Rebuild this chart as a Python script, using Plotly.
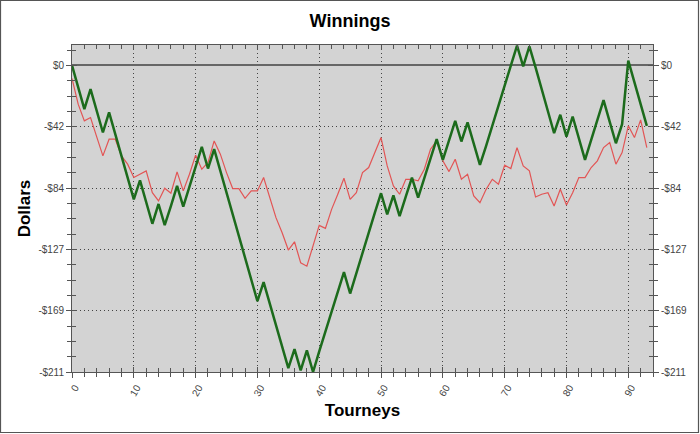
import plotly.graph_objects as go

tourneys = list(range(94))

green_winnings = [
    0, -15.2, -30.1, -16.3, -31.3, -46.2, -32.4, -47.4, -62.3, -77.2,
    -92.2, -79.1, -94.0, -109.0, -95.4, -109.9, -96.8, -83.0, -97.2, -83.0,
    -69.2, -56.1, -71.0, -57.7, -72.6, -87.6, -102.5, -117.5, -132.4, -147.4,
    -162.3, -149.2, -164.1, -179.1, -194.0, -208.3, -195.2, -209.9, -196.1, -211.0,
    -196.8, -183.0, -169.2, -155.4, -142.3, -157.0, -142.8, -129.0, -115.2, -101.4,
    -88.0, -102.5, -89.4, -103.7, -90.3, -77.2, -91.0, -77.9, -64.1, -50.8,
    -65.1, -51.5, -38.2, -52.4, -39.3, -53.8, -68.5, -55.4, -41.6, -27.8,
    -14.0, -0.2, 13.6, -0.7, 13.1, -1.4, -16.3, -31.3, -46.7, -34.0,
    -49.0, -35.2, -50.1, -65.1, -51.3, -37.5, -23.9, -38.9, -53.6, -40.5,
    3.2, -11.7, -26.7, -41.6,
]

red_winnings = [
    -9.0, -26.7, -38.2, -35.9, -49.2, -62.3, -50.8, -50.8, -62.3, -68.0,
    -77.2, -74.9, -72.6, -87.6, -93.3, -84.6, -88.0, -73.3, -86.4, -74.9,
    -61.8, -71.5, -66.9, -52.0, -61.1, -73.8, -84.8, -84.8, -91.5, -86.4,
    -86.4, -77.2, -91.0, -104.8, -115.2, -127.1, -121.4, -135.9, -138.2, -124.4,
    -110.1, -112.2, -99.1, -88.7, -77.7, -92.2, -87.6, -73.8, -70.3, -60.0,
    -49.7, -69.2, -83.0, -88.7, -78.4, -78.4, -79.5, -71.5, -57.7, -52.0,
    -65.7, -73.1, -64.6, -78.4, -74.9, -89.9, -94.5, -85.3, -78.4, -81.8,
    -68.7, -71.0, -56.6, -69.2, -72.6, -90.6, -88.7, -87.6, -96.8, -85.3,
    -96.1, -87.6, -77.2, -77.2, -70.3, -65.7, -56.6, -53.1, -68.0, -60.0,
    -41.6, -49.7, -37.5, -56.6,
]

y_min, y_max = -211.0, 14.0
ytick_vals = [y_min + k * (0 - y_min) / 5 for k in range(6)]
ytick_text = ["-$211", "-$169", "-$127", "-$84", "-$42", "$0"]
y_minor = [y_min + k * (0 - y_min) / 20 for k in range(22) if k % 4 != 0]
x_range = [0, 94]
xtick_vals = list(range(0, 91, 10))
xtick_text = [str(v) for v in xtick_vals]

AX = "#555555"
GRID = "#444444"
FONT = "Liberation Sans, Arial, sans-serif"

fig = go.Figure()
fig.add_trace(go.Scatter(x=tourneys, y=red_winnings, mode="lines",
                         line=dict(color="#e25555", width=1.2), showlegend=False))
fig.add_trace(go.Scatter(x=tourneys, y=green_winnings, mode="lines",
                         line=dict(color="#1c6b1c", width=2.5), showlegend=False))

tickfont = dict(family=FONT, size=10, color="#444444")

fig.update_layout(
    width=700, height=434,
    margin=dict(l=72, r=47, t=45, b=62),
    paper_bgcolor="white",
    plot_bgcolor="#d3d3d3",
    title=dict(text="<b>Winnings</b>", x=0.5, xanchor="center", y=0.953, yanchor="middle",
               font=dict(family=FONT, size=18, color="black")),
    xaxis=dict(range=x_range, tickmode="array", tickvals=xtick_vals, ticktext=xtick_text,
               tickangle=-60, tickfont=tickfont, ticks="outside", ticklen=5, tickcolor=AX,
               ticklabelshift=3,
               minor=dict(ticks="outside", ticklen=4, dtick=2, tick0=0, tickcolor=AX, showgrid=False),
               showline=True, linecolor=AX, linewidth=1, mirror=True,
               showgrid=True, gridcolor=GRID, griddash="1px,3px", gridwidth=1,
               zeroline=False,
               title=dict(text="<b>Tourneys</b>", font=dict(family=FONT, size=17, color="black"), standoff=6)),
    xaxis2=dict(range=x_range, overlaying="x", side="bottom", tickmode="array", tickvals=xtick_vals,
                showticklabels=False, ticks="inside", ticklen=5, tickcolor=AX, mirror="ticks",
                minor=dict(ticks="inside", ticklen=4, dtick=2, tick0=0, tickcolor=AX),
                showline=True, linecolor=AX, showgrid=False, zeroline=False),
    yaxis=dict(range=[y_min, y_max], tickmode="array", tickvals=ytick_vals, ticktext=ytick_text,
               tickfont=tickfont, ticks="outside", ticklen=5, tickcolor=AX,
               minor=dict(ticks="outside", ticklen=4, tickvals=y_minor, tickcolor=AX, showgrid=False),
               showline=True, linecolor=AX, linewidth=1,
               showgrid=True, gridcolor=GRID, griddash="1px,3px", gridwidth=1,
               zeroline=True, zerolinecolor="#666666", zerolinewidth=1.5,
               title=dict(text="<b>Dollars</b>", font=dict(family=FONT, size=17, color="black"), standoff=3)),
    yaxis2=dict(range=[y_min, y_max], overlaying="y", side="right", tickmode="array",
                tickvals=ytick_vals, ticktext=ytick_text, tickfont=tickfont,
                ticks="outside", ticklen=5, tickcolor=AX,
                minor=dict(ticks="outside", ticklen=4, tickvals=y_minor, tickcolor=AX),
                showline=True, linecolor=AX, showgrid=False, zeroline=False),
    yaxis3=dict(range=[y_min, y_max], overlaying="y", side="left", tickmode="array",
                tickvals=ytick_vals, showticklabels=False, ticks="inside", ticklen=5, tickcolor=AX,
                mirror="ticks",
                minor=dict(ticks="inside", ticklen=4, tickvals=y_minor, tickcolor=AX),
                showline=False, showgrid=False, zeroline=False),
)

# invisible traces to activate overlay axes
fig.add_trace(go.Scatter(x=[None], y=[None], xaxis="x2", yaxis="y2", showlegend=False, hoverinfo="skip"))
fig.add_trace(go.Scatter(x=[None], y=[None], xaxis="x2", yaxis="y3", showlegend=False, hoverinfo="skip"))

# outer frame
pw, ph = 700 - 72 - 47, 434 - 45 - 62
fig.add_shape(type="rect", xref="paper", yref="paper",
              x0=-(72 - 0.5) / pw, x1=1 + (47 - 1.5) / pw,
              y0=-(62 - 1.5) / ph, y1=1 + (45 - 0.5) / ph,
              line=dict(color="#555555", width=1.2), layer="above")

fig.write_html("out.html", config={"displayModeBar": False},
               post_script="document.body.style.margin='0px';")
